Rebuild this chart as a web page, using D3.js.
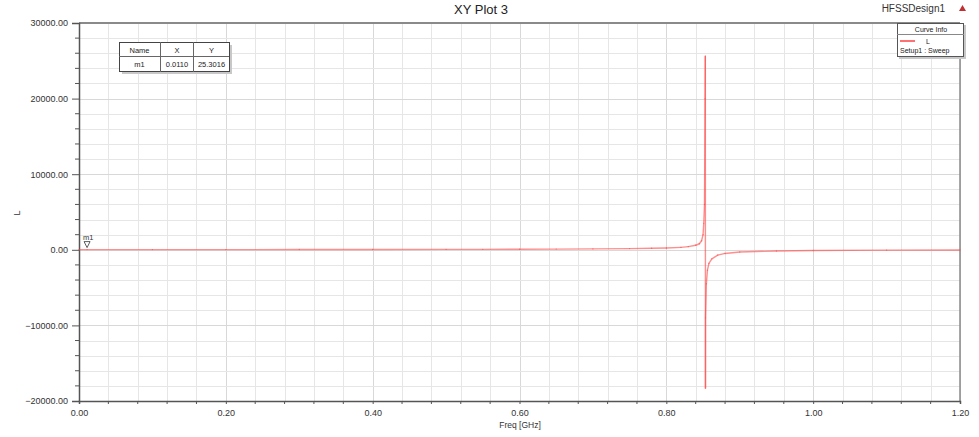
<!DOCTYPE html>
<html>
<head>
<meta charset="utf-8">
<script src="https://cdn.jsdelivr.net/npm/d3@7"></script>
<style>
  html, body { margin: 0; padding: 0; background: #fff; }
  svg { display: block; font-family: "Liberation Sans", Arial, sans-serif; }
</style>
</head>
<body>
<script>
// sweep points: frequency in GHz, L
const freq = [0, 0.011, 0.1, 0.2, 0.3, 0.4, 0.5, 0.55, 0.6, 0.65, 0.7, 0.75, 0.78, 0.8, 0.82, 0.83,
  0.84, 0.845, 0.848, 0.85, 0.851, 0.852, 0.8528, 0.8531, 0.8533, 0.8534, 0.8545, 0.856, 0.858,
  0.862, 0.87, 0.88, 0.9, 0.95, 1.0, 1.1, 1.2]
const lval = [25, 25.3016, 26, 28, 32, 38, 50, 60, 75, 95, 120, 160, 200, 240, 320, 420,
  600, 800, 1200, 2000, 3500, 6000, 20000, 25600, -18300, -9000, -4500, -2700, -1800,
  -1200, -700, -480, -300, -150, -90, -45, -25]

const xTicks = [0, 0.2, 0.4, 0.6, 0.8, 1.0, 1.2]
const yTicks = [-20000, -10000, 0, 10000, 20000, 30000]

const marker = {name: 'm1', x: 0.0110, y: 25.3016}

const width = 979
const height = 437
const margin = {top: 23, right: 19, bottom: 36, left: 79}

const svg = d3.select('body').append('svg')
  .attr('width', width)
  .attr('height', height)
  .attr('viewBox', `0 0 ${width} ${height}`)

const x = d3.scaleLinear().domain([0, 1.2]).range([margin.left, width - margin.right])
const y = d3.scaleLinear().domain([-20000, 30000]).range([height - margin.bottom, margin.top])

const xMinor = d3.range(0, 1.2001, 0.04)
const yMinor = d3.range(-20000, 30001, 2000)

// grid
const grid = svg.append('g')
grid.selectAll('line.vx').data(xMinor).join('line')
  .attr('x1', d => Math.round(x(d)) + 0.5).attr('x2', d => Math.round(x(d)) + 0.5)
  .attr('y1', y(30000)).attr('y2', y(-20000))
  .attr('stroke', (d, i) => i % 5 == 0 ? '#d8d8d8' : '#e6e6e6')
grid.selectAll('line.hy').data(yMinor).join('line')
  .attr('y1', d => Math.round(y(d)) + 0.5).attr('y2', d => Math.round(y(d)) + 0.5)
  .attr('x1', x(0)).attr('x2', x(1.2))
  .attr('stroke', (d, i) => i % 5 == 0 ? '#d8d8d8' : '#e6e6e6')

// frame lines top and right
svg.append('line').attr('x1', x(0)).attr('x2', x(1.2)).attr('y1', y(30000)).attr('y2', y(30000))
  .attr('stroke', '#8a8a8a').attr('stroke-width', 2)
svg.append('line').attr('x1', x(1.2)).attr('x2', x(1.2)).attr('y1', y(30000)).attr('y2', y(-20000))
  .attr('stroke', '#8a8a8a').attr('stroke-width', 1.5)

// axes
const yAxis = svg.append('g').attr('transform', `translate(${x(0)},0)`)
  .call(d3.axisLeft(y).tickValues(yTicks).tickFormat(d3.format('.2f')).tickSize(7).tickPadding(4))
yAxis.append('g').selectAll('line').data(yMinor.filter((d, i) => i % 5 != 0)).join('line')
  .attr('x1', -4).attr('x2', 0).attr('y1', d => y(d)).attr('y2', d => y(d)).attr('stroke', '#555')

const xAxis = svg.append('g').attr('transform', `translate(0,${y(-20000)})`)
  .call(d3.axisBottom(x).tickValues(xTicks).tickFormat(d3.format('.2f')).tickSize(3).tickPadding(6))
xAxis.append('g').selectAll('line').data(xMinor.filter((d, i) => i % 5 != 0)).join('line')
  .attr('y1', 0).attr('y2', 3).attr('x1', d => x(d)).attr('x2', d => x(d)).attr('stroke', '#555')

for (const g of [xAxis, yAxis]) {
  g.select('.domain').attr('stroke', '#555').attr('stroke-width', 1.5)
  g.selectAll('.tick line').attr('stroke', '#555')
  g.selectAll('.tick text').attr('fill', '#333').attr('font-size', 9)
    .attr('font-family', '"Liberation Sans", Arial, sans-serif')
}

// curve, drawn segment by segment so that overlapping sweeps look darker
const pts = d3.zip(freq, lval)
const segs = d3.pairs(pts)
svg.append('g').selectAll('line').data(segs).join('line')
  .attr('x1', d => x(d[0][0])).attr('y1', d => y(d[0][1]))
  .attr('x2', d => x(d[1][0])).attr('y2', d => y(d[1][1]))
  .attr('stroke', '#ff4545')
  .attr('stroke-opacity', 0.6)
  .attr('stroke-width', 1.4)
  .attr('stroke-linecap', 'round')

// titles
svg.append('text').attr('x', 481).attr('y', 14).attr('text-anchor', 'middle')
  .attr('font-size', 13).attr('fill', '#222').text('XY Plot 3')
svg.append('text').attr('x', 945).attr('y', 12).attr('text-anchor', 'end')
  .attr('font-size', 10).attr('fill', '#333').text('HFSSDesign1')
svg.append('path').attr('d', 'M959,11 L962.5,5 L966,11 Z').attr('fill', '#c03030')
svg.append('text').attr('transform', 'translate(20,213) rotate(-90)').attr('text-anchor', 'middle')
  .attr('font-size', 9).attr('fill', '#333').text('L')
svg.append('text').attr('x', 520).attr('y', 428).attr('text-anchor', 'middle')
  .attr('font-size', 8.5).attr('fill', '#333').text('Freq [GHz]')

// marker m1
const mx = x(marker.x), my = y(marker.y)
svg.append('path').attr('d', `M${mx - 3},${my - 8} L${mx + 3},${my - 8} L${mx},${my - 2} Z`)
  .attr('fill', 'none').attr('stroke', '#333').attr('stroke-width', 0.8)
svg.append('text').attr('x', mx - 4).attr('y', my - 10).attr('font-size', 7.5).attr('fill', '#333').text(marker.name)

// marker table
const tb = svg.append('g').attr('transform', 'translate(119,42)')
tb.append('rect').attr('x', 3).attr('y', 3).attr('width', 110).attr('height', 29).attr('fill', '#c8c8c8')
tb.append('rect').attr('x', 0.5).attr('y', 0.5).attr('width', 110).attr('height', 29)
  .attr('fill', '#fff').attr('stroke', '#444')
tb.append('line').attr('x1', 0).attr('x2', 110).attr('y1', 14.5).attr('y2', 14.5).attr('stroke', '#666')
for (const cx of [41.5, 74.5]) {
  tb.append('line').attr('x1', cx).attr('x2', cx).attr('y1', 0).attr('y2', 30).attr('stroke', '#666')
}
const cols = [20.5, 58, 92.5]
const header = ['Name', 'X', 'Y']
const row = [marker.name, marker.x.toFixed(4), marker.y.toFixed(4)]
header.forEach((h, i) => tb.append('text').attr('x', cols[i]).attr('y', 10.5).attr('text-anchor', 'middle')
  .attr('font-size', 7.5).attr('fill', '#222').text(h))
row.forEach((h, i) => tb.append('text').attr('x', cols[i]).attr('y', 25).attr('text-anchor', 'middle')
  .attr('font-size', 7.5).attr('fill', '#222').text(h))

// curve info legend
const lg = svg.append('g').attr('transform', 'translate(897,23)')
lg.append('rect').attr('x', 2).attr('y', 2).attr('width', 67).attr('height', 34).attr('fill', '#c8c8c8')
lg.append('rect').attr('x', 0.5).attr('y', 0.5).attr('width', 66).attr('height', 33)
  .attr('fill', '#fff').attr('stroke', '#555')
lg.append('line').attr('x1', 0).attr('x2', 67).attr('y1', 11.5).attr('y2', 11.5).attr('stroke', '#888')
lg.append('text').attr('x', 34).attr('y', 9).attr('text-anchor', 'middle').attr('font-size', 7)
  .attr('fill', '#222').text('Curve Info')
lg.append('line').attr('x1', 3).attr('x2', 18).attr('y1', 18).attr('y2', 18)
  .attr('stroke', '#ff4040').attr('stroke-width', 1.5)
lg.append('text').attr('x', 29).attr('y', 20.5).attr('font-size', 7).attr('fill', '#222').text('L')
lg.append('text').attr('x', 3).attr('y', 30).attr('font-size', 7).attr('fill', '#222').text('Setup1 : Sweep')
</script>
</body>
</html>
